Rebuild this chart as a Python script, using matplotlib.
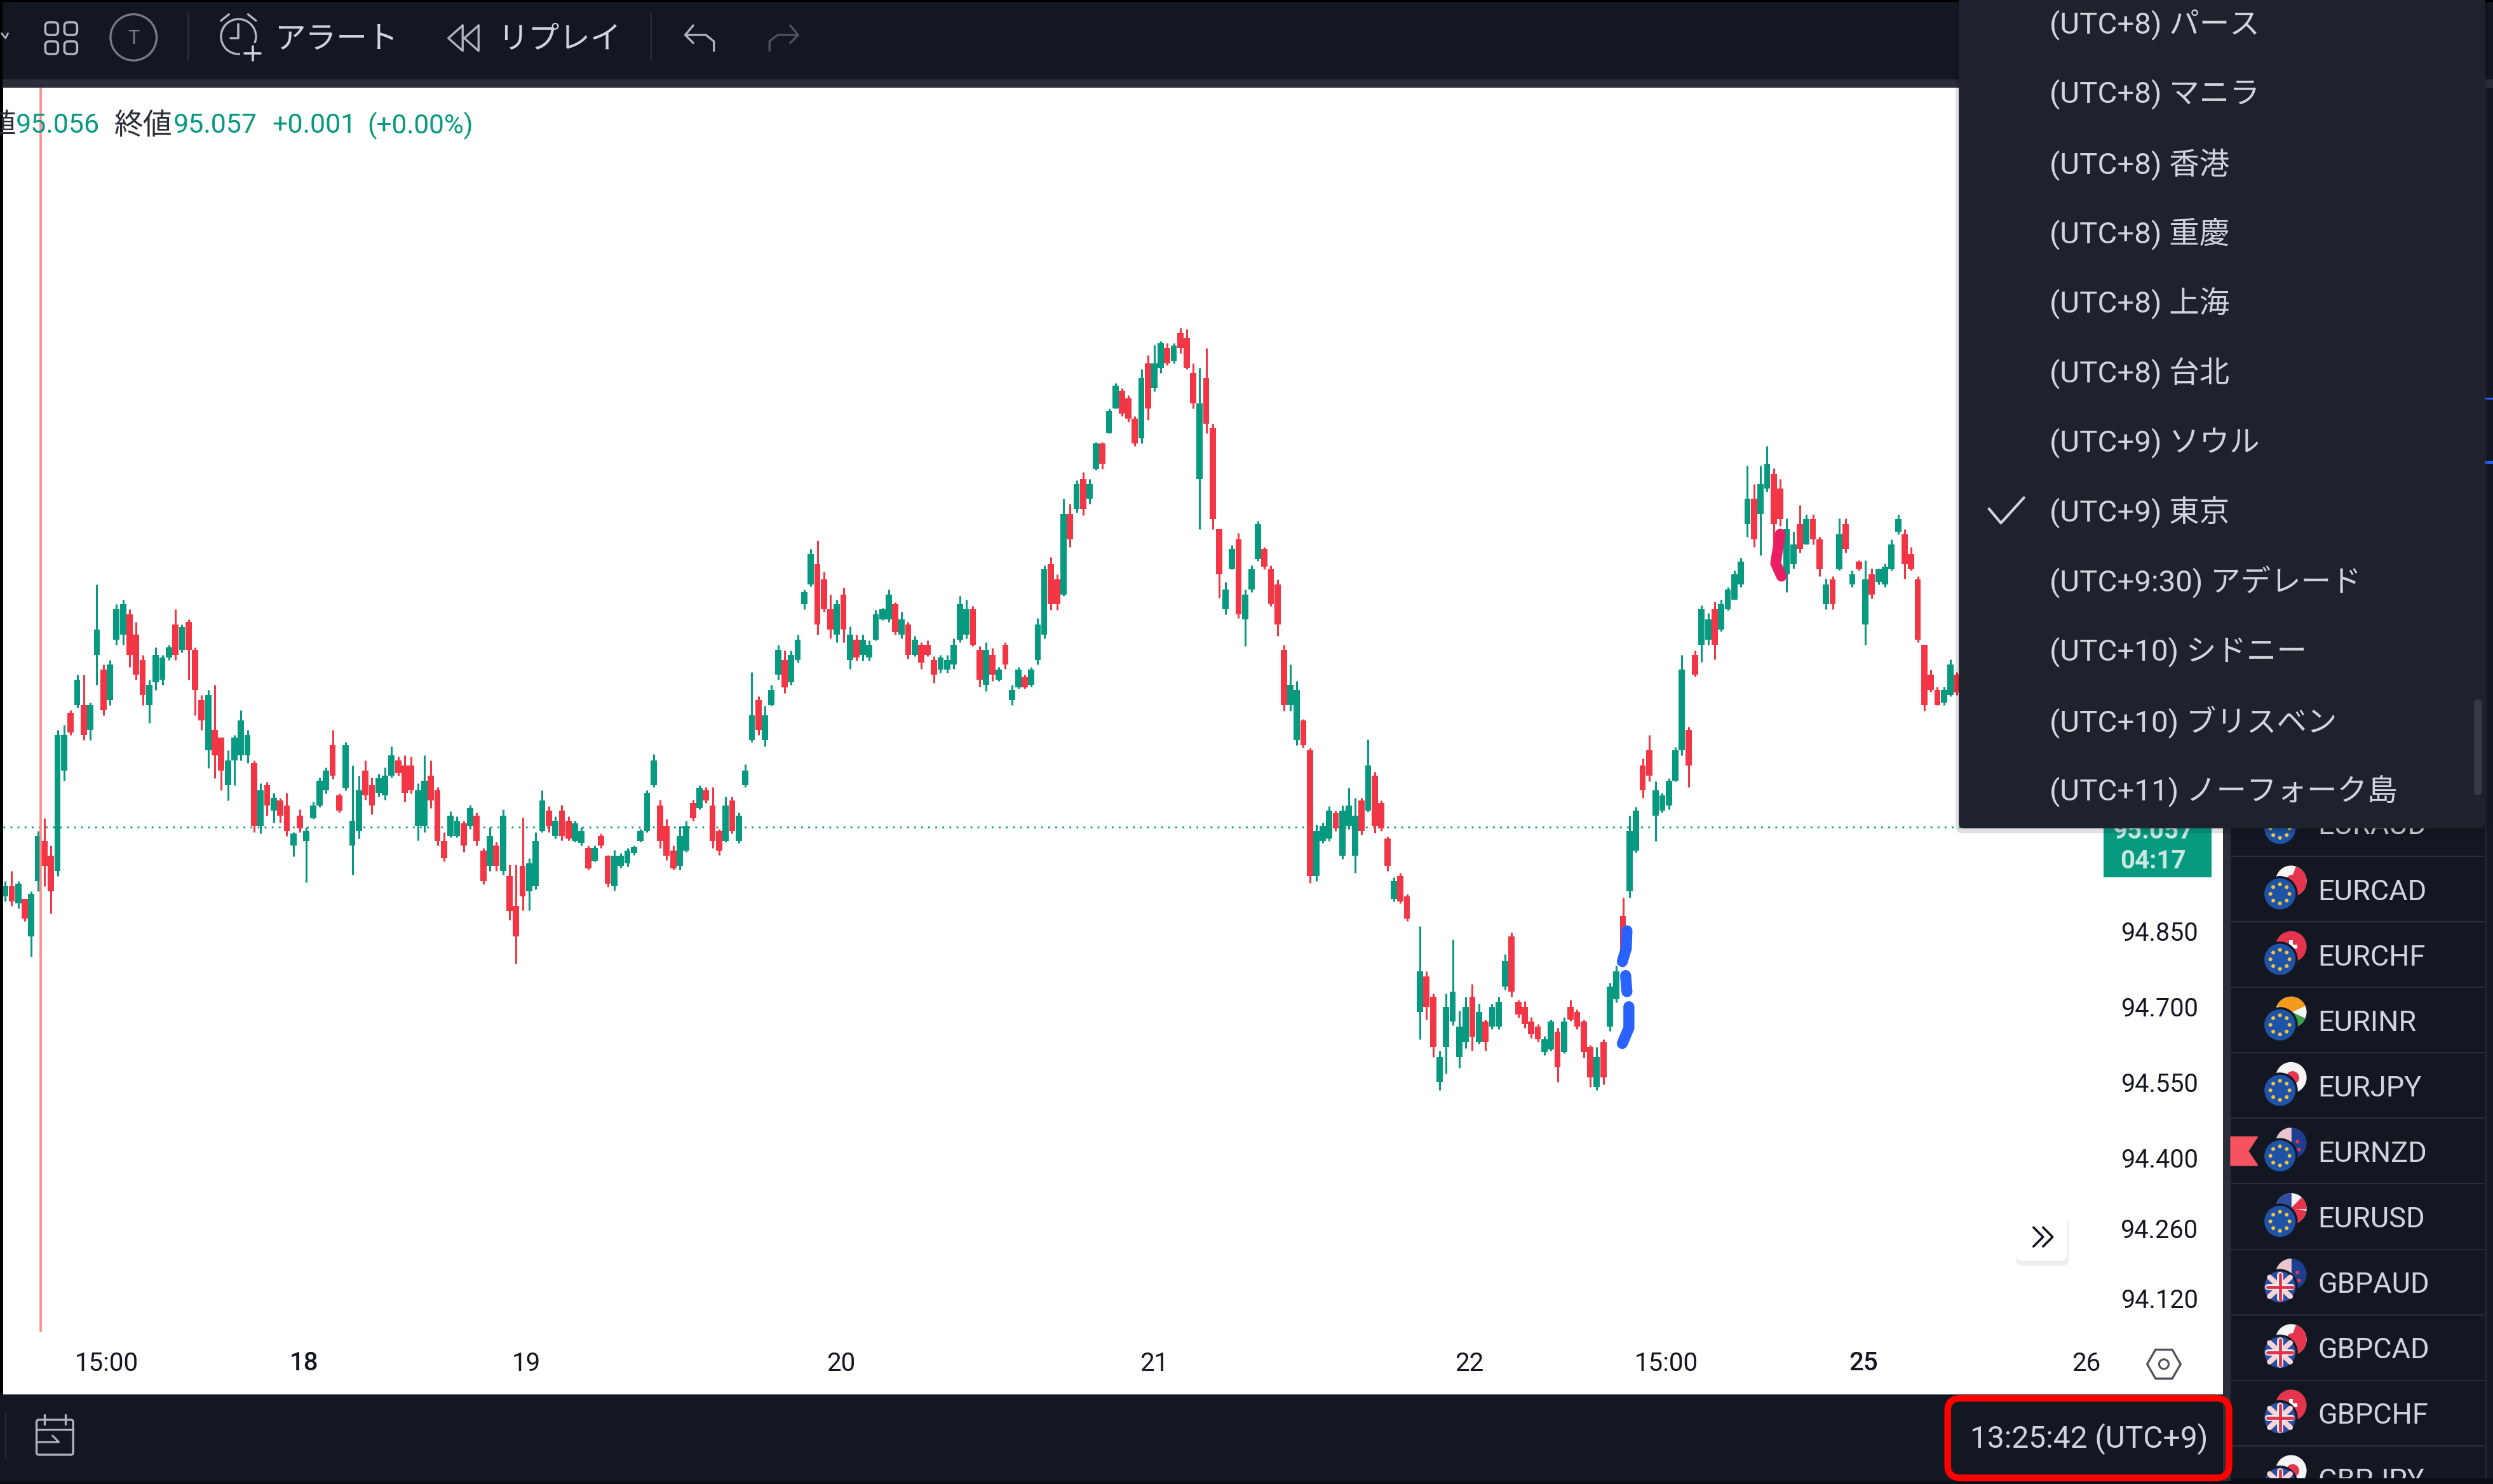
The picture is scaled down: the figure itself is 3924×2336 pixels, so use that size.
import numpy as np
import matplotlib
matplotlib.use('Agg')
import matplotlib.pyplot as plt
from matplotlib.patches import Rectangle, Circle, FancyBboxPatch, Wedge, RegularPolygon, Polygon

plt.rcParams['font.family'] = ['Roboto', 'Noto Sans CJK JP', 'DejaVu Sans']

# Candles
highs = [
    94.95,94.97,94.95,94.915,94.93,95.05,95.075,95.02,95.25,95.26,
    95.29,95.36,95.36,95.305,95.54,95.38,95.39,95.50,95.51,95.49,
    95.465,95.40,95.35,95.415,95.40,95.42,95.49,95.46,95.47,95.415,
    95.32,95.33,95.34,95.235,95.21,95.24,95.29,95.25,95.19,95.144,
    95.147,95.125,95.115,95.125,95.047,95.092,95.057,95.108,95.156,95.176,
    95.25,95.124,95.227,95.18,95.16,95.19,95.156,95.163,95.176,95.218,
    95.198,95.20,95.198,95.144,95.20,95.19,95.137,95.047,95.089,95.079,
    95.07,95.102,95.086,95.015,95.057,95.028,95.092,94.983,94.983,95.076,
    94.995,95.047,95.131,95.099,95.079,95.102,95.079,95.07,95.057,95.021,
    95.021,95.044,95.002,95.012,95.005,95.015,95.021,95.053,95.131,95.202,
    95.111,95.073,95.021,95.06,95.07,95.111,95.14,95.137,95.137,95.053,
    95.118,95.118,95.086,95.182,95.366,95.318,95.298,95.34,95.42,95.408,
    95.408,95.44,95.53,95.61,95.627,95.565,
    95.52,95.51,95.533,95.457,95.44,95.44,95.428,95.489,95.493,95.53,
    95.505,95.485,95.465,95.437,95.425,95.428,95.397,95.40,95.40,95.433,
    95.517,95.509,95.497,95.417,95.425,95.413,95.376,95.425,95.34,95.376,
    95.36,95.376,95.473,95.578,95.594,95.56,95.71,95.70,95.747,95.763,
    95.75,95.823,95.823,95.89,95.94,95.93,95.916,95.875,95.968,95.996,
    96.016,96.024,96.02,96.02,96.05,96.048,95.98,95.97,96.01,95.86,
    95.65,95.545,95.618,95.642,95.53,95.578,95.666,95.614,95.578,95.55,
    95.42,95.38,95.348,95.272,95.215,95.062,95.066,95.099,95.09,95.10,
    95.135,95.115,95.115,95.231,95.167,95.11,95.038,94.958,94.966,94.925,
    94.86,94.77,94.726,94.613,94.726,94.833,94.692,94.72,94.745,94.706,
    94.675,94.706,94.72,94.804,94.847,94.714,94.711,94.68,94.666,94.641,
    94.675,94.658,94.68,94.714,94.694,94.675,94.624,94.62,94.635,94.748,
    94.782,94.917,95.08,95.098,95.194,95.24,95.148,95.126,95.154,95.216,
    95.40,95.257,95.409,95.498,95.483,95.506,95.509,95.535,95.567,95.593,
    95.776,95.74,95.776,95.815,95.771,95.75,95.671,95.645,95.698,95.679,
    95.679,95.635,95.551,95.556,95.671,95.671,95.567,95.588,95.588,95.572,
    95.572,95.582,95.629,95.679,95.65,95.614,95.556,95.42,95.37,95.336,
    95.336,95.391,95.365,
]
lows = [
    94.91,94.90,94.895,94.87,94.80,94.93,94.94,94.885,94.96,95.15,
    95.24,95.295,95.23,95.23,95.34,95.28,95.30,95.42,95.42,95.375,
    95.35,95.30,95.265,95.33,95.34,95.39,95.39,95.405,95.35,95.28,
    95.25,95.175,95.155,95.13,95.11,95.14,95.19,95.185,95.047,95.044,
    95.08,95.066,95.066,95.04,94.999,95.047,94.947,95.073,95.098,95.124,
    95.153,95.086,95.13,94.963,95.034,95.111,95.082,95.118,95.111,95.156,
    95.16,95.108,95.124,95.031,95.047,95.095,95.021,94.989,95.037,95.037,
    95.008,95.054,95.021,94.944,94.97,94.97,94.963,94.873,94.786,94.892,
    94.892,94.934,95.047,95.047,95.034,95.031,95.031,95.028,95.021,94.973,
    94.989,95.015,94.938,94.931,94.976,94.979,95.002,95.028,95.047,95.137,
    95.015,94.992,94.973,94.973,95.008,95.07,95.092,95.105,95.015,95.002,
    95.028,95.044,95.025,95.137,95.227,95.24,95.218,95.298,95.35,95.324,
    95.34,95.385,95.49,95.536,95.44,95.485,
    95.433,95.425,95.425,95.372,95.388,95.388,95.388,95.428,95.469,95.465,
    95.44,95.433,95.392,95.397,95.372,95.397,95.344,95.364,95.364,95.372,
    95.425,95.433,95.417,95.336,95.328,95.348,95.348,95.372,95.30,95.332,
    95.332,95.336,95.38,95.433,95.489,95.489,95.517,95.614,95.682,95.678,
    95.70,95.767,95.77,95.84,95.89,95.875,95.863,95.815,95.82,95.867,
    95.924,95.96,95.976,95.98,96.00,95.968,95.89,95.65,95.84,95.65,
    95.513,95.48,95.57,95.473,95.417,95.525,95.586,95.57,95.497,95.437,
    95.288,95.288,95.22,95.215,94.946,94.95,95.026,95.03,95.05,94.994,
    95.054,94.966,95.042,95.087,95.046,95.05,94.97,94.91,94.905,94.87,
    94.635,94.675,94.60,94.534,94.567,94.663,94.579,94.618,94.613,94.627,
    94.613,94.655,94.655,94.734,94.72,94.678,94.658,94.638,94.63,94.604,
    94.613,94.551,94.607,94.672,94.655,94.599,94.54,94.534,94.545,94.652,
    94.709,94.779,94.917,95.007,95.115,95.148,95.03,95.086,95.092,95.148,
    95.20,95.137,95.357,95.386,95.42,95.391,95.446,95.488,95.509,95.535,
    95.635,95.614,95.598,95.724,95.622,95.656,95.525,95.572,95.603,95.619,
    95.619,95.556,95.491,95.491,95.567,95.603,95.535,95.567,95.42,95.512,
    95.54,95.535,95.567,95.64,95.551,95.567,95.425,95.289,95.326,95.30,
    95.30,95.318,95.32,
]
opens = [
    94.92,94.94,94.905,94.915,94.84,94.95,95.03,95.00,94.97,95.17,
    95.285,95.30,95.30,95.25,95.40,95.37,95.31,95.43,95.44,95.48,
    95.44,95.39,95.30,95.345,95.35,95.395,95.46,95.41,95.465,95.41,
    95.31,95.21,95.25,95.235,95.14,95.19,95.20,95.20,95.185,95.06,
    95.14,95.09,95.11,95.10,95.02,95.08,95.03,95.075,95.10,95.13,
    95.22,95.12,95.135,95.02,95.05,95.17,95.14,95.125,95.12,95.16,
    95.19,95.18,95.18,95.06,95.06,95.16,95.13,95.03,95.04,95.04,
    95.065,95.06,95.08,95.01,94.98,95.02,94.97,94.96,94.90,94.98,
    94.93,94.94,95.05,95.09,95.04,95.09,95.07,95.03,95.025,95.015,
    94.99,95.04,95.00,94.94,94.98,94.985,95.005,95.03,95.05,95.14,
    95.10,95.06,95.01,94.98,95.01,95.105,95.095,95.13,95.10,95.05,
    95.03,95.11,95.03,95.14,95.23,95.31,95.23,95.30,95.36,95.39,
    95.345,95.39,95.50,95.54,95.58,95.55,
    95.49,95.44,95.52,95.39,95.43,95.40,95.395,95.43,95.47,95.47,
    95.50,95.44,95.46,95.40,95.42,95.42,95.39,95.37,95.37,95.38,
    95.43,95.44,95.49,95.41,95.34,95.40,95.35,95.42,95.31,95.335,
    95.355,95.34,95.39,95.44,95.58,95.55,95.52,95.68,95.69,95.75,
    95.71,95.77,95.82,95.84,95.89,95.925,95.91,95.87,95.83,95.98,
    95.93,95.97,96.01,95.985,96.04,96.03,95.96,95.75,95.95,95.85,
    95.65,95.49,95.57,95.63,95.47,95.53,95.59,95.61,95.57,95.54,
    95.41,95.30,95.23,95.27,95.21,94.96,95.03,95.035,95.085,95.00,
    95.06,95.00,95.11,95.09,95.16,95.105,95.035,94.915,94.96,94.92,
    94.69,94.76,94.72,94.55,94.62,94.67,94.60,94.63,94.72,94.63,
    94.67,94.66,94.66,94.74,94.84,94.71,94.70,94.67,94.66,94.61,
    94.615,94.65,94.61,94.70,94.69,94.67,94.62,94.54,94.63,94.66,
    94.715,94.88,94.93,95.01,95.18,95.21,95.08,95.09,95.10,95.15,
    95.21,95.25,95.40,95.42,95.43,95.49,95.45,95.49,95.51,95.54,
    95.66,95.71,95.68,95.73,95.76,95.73,95.56,95.58,95.66,95.62,
    95.67,95.63,95.50,95.55,95.57,95.66,95.54,95.585,95.46,95.56,
    95.545,95.54,95.57,95.645,95.64,95.60,95.55,95.42,95.36,95.33,
    95.305,95.32,95.36,
]
closes = [
    94.94,94.91,94.945,94.875,94.925,95.04,94.98,94.93,95.24,95.24,
    95.245,95.35,95.24,95.30,95.45,95.29,95.38,95.49,95.50,95.40,
    95.36,95.32,95.34,95.40,95.395,95.415,95.40,95.455,95.41,95.33,
    95.27,95.32,95.20,95.17,95.19,95.235,95.27,95.24,95.06,95.13,
    95.10,95.115,95.08,95.05,95.045,95.055,95.05,95.10,95.15,95.17,
    95.16,95.09,95.22,95.07,95.13,95.12,95.10,95.155,95.16,95.20,
    95.165,95.125,95.13,95.13,95.15,95.11,95.03,94.995,95.08,95.07,
    95.02,95.095,95.03,94.95,95.04,94.98,95.08,94.89,94.84,94.92,
    94.985,95.03,95.11,95.06,95.07,95.04,95.035,95.065,95.05,94.975,
    95.015,95.02,94.945,95.00,95.00,95.01,95.018,95.05,95.125,95.19,
    95.03,95.00,94.975,95.04,95.06,95.075,95.135,95.11,95.03,95.01,
    95.10,95.05,95.08,95.17,95.28,95.25,95.28,95.33,95.41,95.335,
    95.40,95.43,95.525,95.60,95.46,95.49,
    95.45,95.50,95.45,95.44,95.395,95.43,95.42,95.48,95.49,95.52,
    95.445,95.47,95.40,95.43,95.385,95.40,95.36,95.395,95.39,95.42,
    95.50,95.49,95.42,95.35,95.41,95.36,95.37,95.38,95.33,95.37,
    95.335,95.37,95.46,95.57,95.50,95.50,95.68,95.63,95.74,95.69,
    95.74,95.82,95.78,95.885,95.935,95.88,95.87,95.82,95.95,95.89,
    95.98,96.02,95.98,96.015,96.01,95.97,95.90,95.90,95.86,95.67,
    95.56,95.53,95.61,95.48,95.52,95.57,95.66,95.575,95.50,95.46,
    95.30,95.34,95.33,95.22,94.96,95.05,95.06,95.09,95.055,95.09,
    95.10,95.08,95.05,95.18,95.06,95.055,94.98,94.95,94.91,94.875,
    94.77,94.70,94.62,94.60,94.70,94.73,94.66,94.70,94.64,94.69,
    94.63,94.70,94.71,94.79,94.73,94.685,94.665,94.645,94.635,94.635,
    94.67,94.58,94.67,94.675,94.66,94.61,94.56,94.60,94.56,94.74,
    94.77,94.79,95.05,95.09,95.13,95.16,95.13,95.12,95.15,95.21,
    95.37,95.18,95.36,95.49,95.47,95.42,95.50,95.53,95.56,95.585,
    95.71,95.63,95.74,95.78,95.66,95.67,95.65,95.62,95.61,95.67,
    95.63,95.57,95.54,95.50,95.64,95.61,95.56,95.57,95.55,95.52,
    95.57,95.575,95.62,95.67,95.58,95.57,95.43,95.30,95.33,95.30,
    95.33,95.38,95.325,
]
last_price = 95.057

price_ticks = [94.85, 94.70, 94.55, 94.40, 94.26, 94.12]
price_labels = ['94.850', '94.700', '94.550', '94.400', '94.260', '94.120']
time_ticks = [15.8, 45.9, 79.9, 127.9, 175.7, 223.8, 253.9, 284.0, 318.0]
time_labels = ['15:00', '18', '19', '20', '21', '22', '15:00', '25', '26']
bold_times = ['18', '25']

menu_items = ['(UTC+8) パース', '(UTC+8) マニラ', '(UTC+8) 香港', '(UTC+8) 重慶', '(UTC+8) 上海',
              '(UTC+8) 台北', '(UTC+9) ソウル', '(UTC+9) 東京', '(UTC+9:30) アデレード',
              '(UTC+10) シドニー', '(UTC+10) ブリスベン', '(UTC+11) ノーフォーク島']
pairs = ['EURAUD', 'EURCAD', 'EURCHF', 'EURINR', 'EURJPY', 'EURNZD', 'EURUSD',
         'GBPAUD', 'GBPCAD', 'GBPCHF', 'GBPJPY']

# Highlighter strokes on the chart (candle index, price)
blue_strokes = [
    ([247.9, 247.8, 247.2], [94.851, 94.816, 94.79]),
    ([247.7, 247.9], [94.762, 94.73]),
    ([248.2, 248.2, 247.2], [94.70, 94.658, 94.627]),
]
pink_stroke = ([271.3, 270.6, 271.5], [95.64, 95.582, 95.556])

UP = '#089981'
DOWN = '#F23645'
DARK = '#131722'
PANEL = '#1E222D'
LINE = '#2A2E39'
TEXT = '#D1D4DC'
ICON = '#B2B5BE'

fig = plt.figure(figsize=(39.24, 23.36), dpi=100, facecolor=DARK)

# Chart pane
ax = fig.add_axes([5 / 3924, 1 - 2195 / 2336, 3495 / 3924, 2058 / 2336], zorder=1)
ax.set_xlim(0, 339)
ax.set_ylim(93.929, 96.529)
for s in ax.spines.values():
    s.set_visible(False)

# the middle stretch was read at a slightly tighter candle spacing
x = np.arange(len(highs)) + 0.3
x[126:216] = 126.3 + np.arange(90) * 0.989
opens = np.array(opens)
closes = np.array(closes)
colors = [UP if c >= o else DOWN for o, c in zip(opens, closes)]

ax.axhline(last_price, color=UP, lw=2, ls=(0, (1, 3)), zorder=1)
ax.vlines(x, lows, highs, colors=colors, lw=2.2, zorder=2)
ax.bar(x, closes - opens, bottom=opens, width=0.95, color=colors, zorder=3)
ax.axvline(5.7, ymin=0.0486, color='#FF8A8A', lw=2.6, zorder=4)
for xs, ys in blue_strokes:
    ax.plot(xs, ys, color='#2962FF', lw=12.5, solid_capstyle='round', zorder=5)
ax.plot(pink_stroke[0], pink_stroke[1], color='#E91E63', lw=12, solid_capstyle='round', zorder=5)

ax.yaxis.tick_right()
ax.set_yticks(price_ticks, price_labels)
ax.tick_params(axis='y', length=0, pad=-29, labelsize=28.5, labelcolor='#131722')
for t in ax.get_yticklabels():
    t.set_ha('right')
ax.set_xticks(time_ticks, time_labels)
ax.tick_params(axis='x', length=0, pad=-49, labelsize=29, labelcolor='#131722')
for t in ax.get_xticklabels():
    t.set_va('top')
    if t.get_text() in bold_times:
        t.set_fontweight('medium')

# Interface drawn over everything, in a 1568-wide coordinate space
ui = fig.add_axes([0, 0, 1, 1], zorder=2)
ui.set_xlim(0, 1568)
ui.set_ylim(933.4, 0)
ui.axis('off')
ui.patch.set_alpha(0)


def rect(x0, y0, x1, y1, color, **kw):
    ui.add_patch(Rectangle((x0, y0), x1 - x0, y1 - y0, facecolor=color, edgecolor='none', **kw))


def line(xs, ys, color=ICON, lw=2.6, **kw):
    ui.plot(xs, ys, color=color, lw=lw, solid_capstyle='round', solid_joinstyle='round', **kw)


# Top bar
rect(0, 0, 1568, 50, DARK)
rect(0, 50, 1568, 55, LINE)
rect(0, 0, 1568, 1.2, 'black')
rect(0, 0, 1.5, 933.4, 'black')
line([1, 3.5, 5], [21, 24, 21], lw=2)
for gx in (28.5, 40.5):
    for gy in (14, 26):
        ui.add_patch(FancyBboxPatch((gx, gy), 8, 8, boxstyle='round,pad=0,rounding_size=2.5',
                                    fill=False, edgecolor=ICON, lw=2.6))
ui.add_patch(Circle((84, 23.5), 14.5, fill=False, edgecolor='#787B86', lw=2.4))
ui.text(84, 24, 'T', color='#787B86', fontsize=22, ha='center', va='center')
rect(118, 8, 119, 38, LINE)
rect(409, 8, 410, 38, LINE)
ui.add_patch(Circle((150, 23), 11, fill=False, edgecolor=ICON, lw=2.4))
line([150, 150, 145], [15, 24, 24])
line([139, 144], [13, 9], lw=2.4)
line([156, 161], [9, 13], lw=2.4)
rect(151, 27, 166, 40, DARK)
line([159, 159], [29, 38], color=TEXT)
line([154, 164], [33.5, 33.5], color=TEXT)
ui.text(173, 25, 'アラート', color=TEXT, fontsize=35, ha='left', va='center')
line([291, 282, 291, 291], [16, 24, 32, 16], lw=2.4)
line([301, 292, 301, 301], [16, 24, 32, 16], lw=2.4)
ui.text(313, 25, 'リプレイ', color=TEXT, fontsize=35, ha='left', va='center')
line([436, 431, 436], [16, 22, 27], lw=2.4)
line([431, 444, 449, 449], [22, 22, 26, 32], lw=2.4)
line([497, 502, 497], [16, 22, 27], color='#4C525E', lw=2.4)
line([502, 489, 484, 484], [22, 22, 26, 32], color='#4C525E', lw=2.4)

# OHLC legend pieces
ui.text(-8, 79, '値', color='#2A2E39', fontsize=32, ha='left', va='center')
ui.text(10, 79, '95.056', color=UP, fontsize=31, ha='left', va='center')
ui.text(72, 79, '終値', color='#2A2E39', fontsize=33, ha='left', va='center')
ui.text(109, 79, '95.057', color=UP, fontsize=31, ha='left', va='center')
ui.text(171, 79, '+0.001', color=UP, fontsize=31, ha='left', va='center')
ui.text(231, 79, '(+0.00%)', color=UP, fontsize=30.5, ha='left', va='center')

# Watchlist column
rect(1398, 55, 1403, 933.4, LINE)
rect(1403, 55, 1568, 933.4, DARK)
rect(1563, 55, 1564.5, 933.4, LINE, alpha=0.6)
for yb in (250, 290):
    rect(1562, yb, 1568, yb + 1.5, '#2962FF')


def eu_coin(cx, cy):
    ui.add_patch(Circle((cx, cy), 10.5, facecolor='#1E53A8', edgecolor=DARK, lw=2.5))
    for a in np.deg2rad(np.arange(0, 360, 45)):
        ui.add_patch(Circle((cx + 6 * np.cos(a), cy + 6 * np.sin(a)), 0.9, color='#F2C53D'))


def gb_coin(cx, cy):
    ui.add_patch(Circle((cx, cy), 10.5, facecolor='#2F4D9E', edgecolor=DARK, lw=2.5))
    line([cx - 6.5, cx + 6.5], [cy - 6, cy + 6], color='#F6D5D8', lw=6)
    line([cx - 6.5, cx + 6.5], [cy + 6, cy - 6], color='#F6D5D8', lw=6)
    line([cx - 7.5, cx + 7.5], [cy, cy], color='#EEF0F3', lw=7)
    line([cx, cx], [cy - 7.5, cy + 7.5], color='#EEF0F3', lw=7)
    line([cx - 8, cx + 8], [cy, cy], color='#E0344B', lw=3.5)
    line([cx, cx], [cy - 8, cy + 8], color='#E0344B', lw=3.5)


def back_coin(cx, cy, code):
    if code in ('CAD', 'JPY'):
        ui.add_patch(Circle((cx, cy), 9.5, color='#F5F5F5'))
        ui.add_patch(Circle((cx + 1, cy), 3.8, color='#E5354E'))
        if code == 'CAD':
            ui.add_patch(Wedge((cx, cy), 9.5, -70, 70, color='#E5354E'))
    elif code == 'CHF':
        ui.add_patch(Circle((cx, cy), 9.5, color='#E5354E'))
        rect(cx - 4, cy - 1.3, cx + 4, cy + 1.3, 'white')
        rect(cx - 1.3, cy - 4, cx + 1.3, cy + 4, 'white')
    elif code == 'INR':
        ui.add_patch(Circle((cx, cy), 9.5, color='#F5F5F5'))
        ui.add_patch(Wedge((cx, cy), 9.5, 205, 335, color='#F39A1E'))
        ui.add_patch(Wedge((cx, cy), 9.5, 25, 155, color='#3BA34A'))
    elif code in ('NZD', 'AUD'):
        ui.add_patch(Circle((cx, cy), 9.5, color='#1E3F8F'))
        ui.add_patch(Wedge((cx, cy), 9.5, 180, 270, color='#E8C6CB'))
        for dx, dy in ((4, -1), (5, 4), (1, 5)):
            ui.add_patch(Circle((cx + dx, cy + dy), 0.9, color='#E5354E'))
    elif code == 'USD':
        ui.add_patch(Circle((cx, cy), 9.5, color='#F5F5F5'))
        ui.add_patch(Wedge((cx, cy), 9.5, 180, 270, color='#2F4D9E'))
        ui.add_patch(Wedge((cx, cy), 9.5, 315, 360, color='#E5354E'))
        ui.add_patch(Wedge((cx, cy), 9.5, 10, 60, color='#E5354E'))


row_y = [518 + 41.2 * i for i in range(len(pairs))]
for name, ry in zip(pairs, row_y):
    rect(1403, ry + 20.2, 1563, ry + 21, LINE)
    back_coin(1441, ry - 5, name[3:])
    (eu_coin if name.startswith('EUR') else gb_coin)(1434, ry + 3)
    ui.text(1458, ry + 2, name, color=TEXT, fontsize=32.5, ha='left', va='center')
ui.add_patch(Polygon([(1403, 715), (1420, 715), (1414, 724), (1420, 733), (1403, 733)], color='#F7525F'))
rect(1403, 930, 1568, 933.4, '#0B0E14', zorder=4)
rect(0, 931.5, 1403, 933.4, '#0B0E14', zorder=4)

# Price tag, partly under the menu
rect(1323, 500, 1391, 552, UP)
ui.text(1354, 523, '95.057', color='#C8E9E2', fontsize=29, ha='center', va='center', fontweight='bold')
ui.text(1354, 542, '04:17', color='#C8E9E2', fontsize=29, ha='center', va='center', fontweight='bold')

# Scroll button and scale settings
ui.add_patch(FancyBboxPatch((1268, 765), 33, 31, boxstyle='round,pad=0,rounding_size=4',
                            facecolor='#EDEEF0', edgecolor='none'))
ui.add_patch(FancyBboxPatch((1268, 763), 32, 30, boxstyle='round,pad=0,rounding_size=4',
                            facecolor='white', edgecolor='none'))
line([1279, 1285, 1279], [772, 778, 784], color='#131722')
line([1285, 1291, 1285], [772, 778, 784], color='#131722')
ui.add_patch(RegularPolygon((1361, 858), 6, radius=10.5, orientation=np.pi / 2, fill=False,
                            edgecolor='#50535E', lw=2.4))
ui.add_patch(Circle((1361, 858), 3, fill=False, edgecolor='#50535E', lw=2.2))

# Bottom bar
rect(0, 877, 1398, 931.5, DARK)
rect(3, 889, 4, 917, LINE)
ui.add_patch(FancyBboxPatch((23, 893), 23, 22, boxstyle='round,pad=0,rounding_size=1.5',
                            fill=False, edgecolor=ICON, lw=2.4))
line([28, 28], [890, 896], lw=2.4)
line([41, 41], [890, 896], lw=2.4)
line([23, 46], [899, 899], lw=2.2)
line([24, 37, 33], [907, 907, 903], lw=2.2)
ui.text(1314, 905, '13:25:42 (UTC+9)', color=TEXT, fontsize=34.5, ha='center', va='center')
ui.add_patch(FancyBboxPatch((1225, 879.5), 177, 50, boxstyle='round,pad=0,rounding_size=8',
                            fill=False, edgecolor='#FF0000', lw=7.5, zorder=5))

# Timezone dropdown sits above the tag and the list rows
ui.add_patch(FancyBboxPatch((1230, -10), 335, 534, boxstyle='round,pad=0,rounding_size=4',
                            facecolor='#000000', edgecolor='none', alpha=0.12, zorder=6))
ui.add_patch(FancyBboxPatch((1232, -10), 331, 531, boxstyle='round,pad=0,rounding_size=3',
                            facecolor=PANEL, edgecolor='none', zorder=6))
for i, item in enumerate(menu_items):
    ui.text(1289, 15.5 + 43.85 * i, item, color=TEXT, fontsize=34.2, ha='left', va='center', zorder=7)
line([1251, 1258.5, 1273], [320, 329, 313], color=TEXT, lw=3, zorder=7)
ui.add_patch(FancyBboxPatch((1556, 440), 5, 60, boxstyle='round,pad=0,rounding_size=2',
                            facecolor='#363A45', edgecolor='none', zorder=7))

fig.savefig('out.png', dpi=100, facecolor=fig.get_facecolor())
